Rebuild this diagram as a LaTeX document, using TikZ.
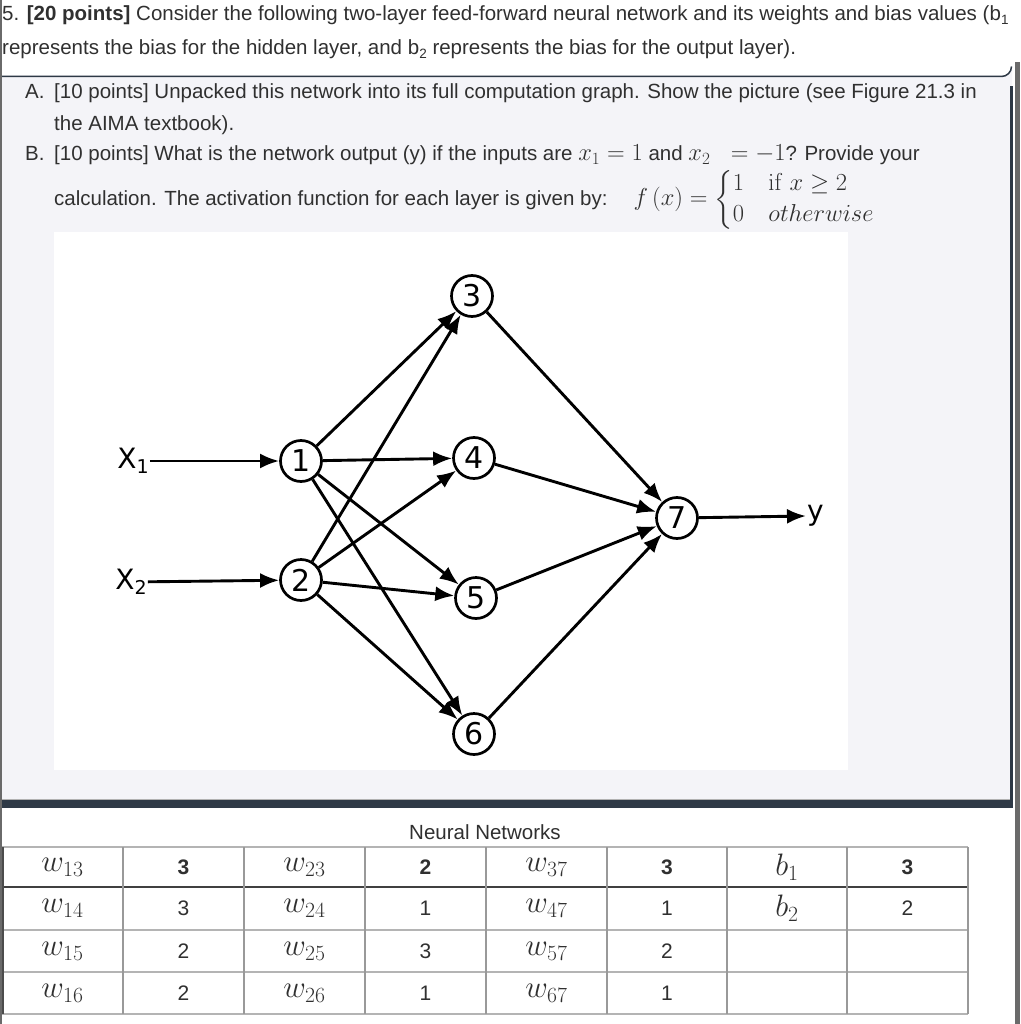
\documentclass[tikz,border=0pt]{standalone}
\usepackage{fix-cm}
\usepackage{amsmath,amssymb}
\usepackage[no-math]{fontspec}
\setmainfont{Liberation Sans}
\newfontfamily\netfont{DejaVu Sans}
\usetikzlibrary{arrows.meta}
\definecolor{txt}{HTML}{303030}
\definecolor{boxfill}{HTML}{F4F4F8}
\definecolor{boxdark}{HTML}{2E3946}
\definecolor{pagegray}{HTML}{6A6A6A}
\definecolor{tabline}{HTML}{B4B4B4}
\newcommand{\sbs}[1]{\raisebox{-0.35ex}{\fontsize{13.5}{13.5}\selectfont #1}}
\newcommand{\nsub}[1]{\raisebox{-0.35ex}{\fontsize{19}{19}\selectfont #1}}
\newcommand{\mth}[1]{{\fontsize{24.5}{26}\selectfont$#1$}}
\tikzset{
  qtext/.style={anchor=base west, inner sep=0pt, text=txt, font=\fontsize{20.5}{24}\selectfont},
  neuron/.style={circle, draw=black, line width=2.7pt, minimum size=41pt, inner sep=0pt, fill=white,
    font=\netfont\fontsize{30}{30}\selectfont},
  inlabel/.style={inner sep=1pt, font=\netfont\fontsize{28}{28}\selectfont},
  conn/.style={line width=2.9pt, -{Latex[length=19pt,width=15pt]}},
  mathcell/.style={inner sep=0pt, text=txt, font=\fontsize{31}{34}\selectfont},
  numcell/.style={inner sep=0pt, text=txt, font=\fontsize{21}{24}\selectfont},
  tline/.style={draw=tabline, line width=1.2pt},
}
\begin{document}
\begin{tikzpicture}[x=1pt,y=-1pt]
\useasboundingbox (0,0) rectangle (1020,1024);
\fill[white] (0,0) rectangle (1020,1024);
% page borders
\fill[pagegray] (0,0) rectangle (2,1024);
\fill[pagegray] (1015,62) rectangle (1020,1024);
% question box
\fill[boxfill] (2,76) -- (1002,76) arc[start angle=90,end angle=0,radius=10] -- (1012,808) -- (2,808) -- cycle;
\draw[boxdark, line width=1.5pt] (2,76.5) -- (1001.5,76.5) arc[start angle=90,end angle=0,radius=10];
\draw[boxdark, line width=3pt] (1011.5,86.5) -- (1011.5,808);
\fill[boxdark] (2,800) rectangle (1013,808);
\draw[gray!60, line width=1pt] (2,799.5) -- (1010,799.5);
% white picture area
\fill[white] (54,232) rectangle (848,770);

% question text
\node[qtext] (l1) at (2,21) {5. \textbf{[20 points]} Consider the following two-layer feed-forward neural network and its weights and bias values (b\sbs{1}};
\node[qtext] (l2) at (2,55) {represents the bias for the hidden layer, and b\sbs{2} represents the bias for the output layer).};
\node[qtext] (la) at (25,99) {A.};
\node[qtext] (la1) at (54,99) {[10 points] Unpacked this network into its full computation graph. Show the picture (see Figure 21.3 in};
\node[qtext] (la2) at (54,131) {the AIMA textbook).};
\node[qtext] (lb) at (25,161) {B.};
\node[qtext] (lb1) at (54,161) {[10 points] What is the network output (y) if the inputs are \mth{x_1 = 1} and \mth{x_2\;\;= -1}? Provide your};
\node[qtext] (lb2) at (54,206) {calculation. The activation function for each layer is given by:\hspace{26pt}\mth{f\left(x\right) = \begin{cases} 1 & \mathrm{if}\ x \geq 2\\ 0 & otherwise\end{cases}}};

% network
\node[inlabel] (x1) at (133,461) {X\nsub{1}};
\node[inlabel] (x2) at (131,582) {X\nsub{2}};
\node[neuron] (n1) at (301,461) {1};
\node[neuron] (n2) at (301,580) {2};
\node[neuron] (n3) at (472,296) {3};
\node[neuron] (n4) at (474,458) {4};
\node[neuron] (n5) at (476,598) {5};
\node[neuron] (n6) at (474,734) {6};
\node[neuron] (n7) at (677,518) {7};
\node[inlabel, anchor=west] (yl) at (806,516) {y};
\draw[conn] (x1) -- (n1);
\draw[conn] (x2) -- (n2);
\foreach \s in {n1,n2}{
  \foreach \t in {n3,n4,n5,n6}{
    \draw[conn] (\s) -- (\t);
  }
}
\foreach \s in {n3,n4,n5,n6}{
  \draw[conn] (\s) -- (n7);
}
\draw[conn] (n7) -- (yl.west);

% table
\node[numcell, font=\fontsize{20.5}{24}\selectfont] (cap) at (485,832) {Neural Networks};
\foreach \yy in {847,930,972,1014}{ \draw[tline] (2,\yy) -- (968,\yy); }
\draw[draw=black!75, line width=1.3pt] (2,887) -- (968,887);
\foreach \xx in {123,244,365,486,607,727,847,968}{ \draw[draw=black!40, line width=1.1pt] (\xx,847) -- (\xx,1014); }
\draw[draw=black!70, line width=1.5pt] (3,847) -- (3,1014);
\foreach \a/\b/\c/\d/\e/\f/\g/\h [count=\r] in {
  13/\textbf{3}/23/\textbf{2}/37/\textbf{3}/$b_1$/\textbf{3},
  14/3/24/1/47/1/$b_2$/2,
  15/2/25/3/57/2/{}/{},
  16/2/26/1/67/1/{}/{}}{
  \pgfmathsetmacro\yy{{867,908.5,951,993}[\r-1]}
  \node[mathcell] (ta\r) at (62.5,\yy) {$w_{\a}$};
  \node[numcell] (tb\r) at (183.5,\yy) {\b};
  \node[mathcell] (tc\r) at (304.5,\yy) {$w_{\c}$};
  \node[numcell] (td\r) at (425.5,\yy) {\d};
  \node[mathcell] (te\r) at (546.5,\yy) {$w_{\e}$};
  \node[numcell] (tf\r) at (667,\yy) {\f};
  \node[mathcell] (tg\r) at (787,\yy) {\g};
  \node[numcell] (th\r) at (907.5,\yy) {\h};
}
\end{tikzpicture}
\end{document}
